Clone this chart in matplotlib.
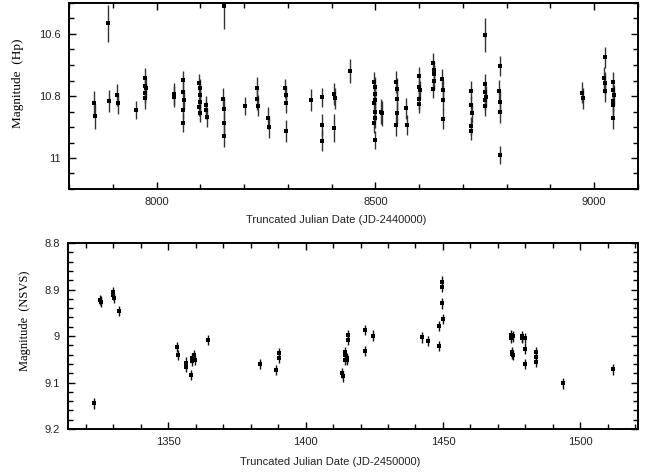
import numpy as np
import matplotlib.pyplot as plt
from matplotlib.ticker import MultipleLocator, FormatStrFormatter

# Hipparcos photometry (top panel)
hp_t = [7857, 7859, 7889, 7891, 7909, 7911, 7953,
        7973, 7974, 7975, 7974, 7973,
        8039, 8041,
        8060, 8061, 8062, 8061, 8060,
        8098, 8099, 8100, 8099, 8098, 8100,
        8113, 8114, 8115,
        8153, 8152, 8153, 8154, 8153,
        8203, 8229, 8230, 8231, 8254, 8256,
        8294, 8295, 8296, 8295,
        8352, 8378, 8377, 8379, 8405, 8407, 8406, 8442,
        8497, 8498, 8499, 8498, 8497, 8499, 8498, 8497, 8498,
        8512, 8514,
        8548, 8549, 8550, 8549, 8548,
        8571, 8573,
        8599, 8600, 8601, 8600, 8599,
        8632, 8633, 8634, 8633, 8632,
        8653, 8654, 8655, 8654,
        8718, 8719, 8720, 8719, 8718,
        8751, 8750, 8751, 8752, 8751, 8750,
        8784, 8783, 8784, 8785, 8784,
        8973, 8975, 9024, 9023, 9024, 9025,
        9043, 9044, 9045, 9044, 9043, 9044]
hp_mag = [10.824, 10.865, 10.566, 10.816, 10.797, 10.824, 10.845,
          10.743, 10.768, 10.775, 10.791, 10.808,
          10.794, 10.802,
          10.749, 10.786, 10.813, 10.845, 10.886,
          10.759, 10.775, 10.797, 10.818, 10.834, 10.854,
          10.829, 10.845, 10.869,
          10.510, 10.810, 10.843, 10.888, 10.929,
          10.832, 10.775, 10.811, 10.831, 10.872, 10.899,
          10.775, 10.797, 10.824, 10.913,
          10.813, 10.804, 10.893, 10.944, 10.794, 10.808, 10.903, 10.719,
          10.754, 10.770, 10.795, 10.813, 10.824, 10.851, 10.872, 10.888, 10.942,
          10.851, 10.856,
          10.754, 10.778, 10.811, 10.854, 10.894,
          10.840, 10.894,
          10.735, 10.772, 10.781, 10.811, 10.826,
          10.692, 10.716, 10.729, 10.752, 10.778,
          10.746, 10.781, 10.813, 10.874,
          10.783, 10.829, 10.856, 10.897, 10.913,
          10.603, 10.762, 10.786, 10.802, 10.813, 10.832,
          10.703, 10.783, 10.818, 10.851, 10.990,
          10.789, 10.808, 10.675, 10.743, 10.759, 10.784,
          10.754, 10.781, 10.797, 10.816, 10.829, 10.872]
hp_err = [0.040, 0.040, 0.059, 0.034, 0.035, 0.035, 0.030,
          0.033, 0.033, 0.033, 0.033, 0.033,
          0.035, 0.035,
          0.030, 0.030, 0.030, 0.030, 0.030,
          0.030, 0.030, 0.030, 0.030, 0.030, 0.030,
          0.030, 0.030, 0.030,
          0.075, 0.035, 0.035, 0.035, 0.035,
          0.028, 0.035, 0.035, 0.035, 0.035, 0.035,
          0.030, 0.030, 0.030, 0.036,
          0.035, 0.030, 0.035, 0.035, 0.035, 0.035, 0.044, 0.038,
          0.030, 0.030, 0.030, 0.030, 0.030, 0.030, 0.030, 0.030, 0.030,
          0.040, 0.040,
          0.035, 0.035, 0.035, 0.035, 0.035,
          0.033, 0.033,
          0.030, 0.030, 0.030, 0.030, 0.030,
          0.030, 0.030, 0.030, 0.030, 0.030,
          0.033, 0.033, 0.033, 0.033,
          0.030, 0.030, 0.030, 0.030, 0.030,
          0.054, 0.033, 0.033, 0.033, 0.033, 0.033,
          0.031, 0.035, 0.035, 0.035, 0.030,
          0.035, 0.035, 0.034, 0.035, 0.035, 0.035,
          0.033, 0.033, 0.033, 0.033, 0.033, 0.033]

# NSVS photometry (bottom panel)
ns_t = [1323.1, 1325.2, 1325.4, 1329.8, 1330.0, 1330.2, 1332.2,
        1353.3, 1353.4, 1356.3, 1356.5, 1358.1, 1358.5, 1358.7,
        1359.5, 1359.6, 1364.3, 1383.3, 1389.4, 1390.2, 1390.3,
        1413.4, 1413.5, 1414.2, 1414.3, 1414.4, 1415.0, 1415.1,
        1415.5, 1415.6, 1421.5, 1421.6, 1424.5, 1442.5, 1444.6,
        1448.5, 1448.6, 1449.6, 1449.7, 1449.8, 1449.9,
        1474.8, 1474.9, 1475.0, 1475.1, 1475.4, 1475.5,
        1478.6, 1478.7, 1479.7, 1479.8, 1479.9,
        1483.7, 1483.8, 1483.9, 1493.6, 1511.8]
ns_mag = [9.145, 8.923, 8.926, 8.905, 8.912, 8.919, 8.946,
          9.024, 9.041, 9.057, 9.066, 9.084, 9.048, 9.053,
          9.041, 9.052, 9.009, 9.061, 9.073, 9.036, 9.047,
          9.080, 9.087, 9.034, 9.041, 9.052, 9.048, 9.052,
          8.998, 9.009, 8.987, 9.032, 8.999, 9.003, 9.011,
          8.978, 9.021, 8.883, 8.894, 8.930, 8.964,
          8.998, 9.004, 9.034, 9.039, 9.001, 9.041,
          9.001, 9.005, 9.005, 9.027, 9.061,
          9.034, 9.045, 9.056, 9.102, 9.072]
ns_err = [0.011] * len(ns_t)

W, H = 655, 472
fig = plt.figure(figsize=(W / 100, H / 100), dpi=100)
ax1 = fig.add_axes([69 / W, 1 - 189 / H, 569 / W, 186 / H])
ax2 = fig.add_axes([68 / W, 1 - 429 / H, 570 / W, 186 / H])

ebkw = dict(fmt='s', color='black', ms=2.4, elinewidth=1.0,
            capsize=2.8, capthick=1.0, mew=0)
ax1.errorbar(hp_t, hp_mag, yerr=hp_err, ecolor='#333333', **ebkw)
ax2.errorbar(ns_t, ns_mag, yerr=ns_err, ecolor='#111111', **ebkw)

ax1.set_xlim(7800, 9100)
ax1.set_ylim(11.1, 10.5)
ax1.xaxis.set_major_locator(MultipleLocator(500))
ax1.xaxis.set_minor_locator(MultipleLocator(100))
ax1.yaxis.set_major_locator(MultipleLocator(0.2))
ax1.yaxis.set_minor_locator(MultipleLocator(0.05))

ax2.set_xlim(1313.5, 1521)
ax2.set_ylim(9.2, 8.8)
ax2.xaxis.set_major_locator(MultipleLocator(50))
ax2.xaxis.set_minor_locator(MultipleLocator(10))
ax2.yaxis.set_major_locator(MultipleLocator(0.1))
ax2.yaxis.set_minor_locator(MultipleLocator(0.02))

for ax in (ax1, ax2):
    ax.yaxis.set_major_formatter(FormatStrFormatter('%g'))
    ax.xaxis.set_major_formatter(FormatStrFormatter('%g'))
    ax.tick_params(which='both', direction='in', top=True, right=True,
                   width=1.0, labelsize=8, labelfontfamily='Liberation Sans',
                   labelcolor='#222222')
    ax.tick_params(which='major', length=5, pad=6)
    ax.tick_params(which='minor', length=3.5)
    for s in ax.spines.values():
        s.set_linewidth(1.4)

ax1.text(-0.09, 0.57, 'Magnitude  (Hp)', transform=ax1.transAxes, rotation=90,
         ha='center', va='center', fontsize=9.5, family='Liberation Serif')
ax2.text(-0.075, 0.58, 'Magnitude  (NSVS)', transform=ax2.transAxes, rotation=90,
         ha='center', va='center', fontsize=9, family='Liberation Serif')

ax1.text(0.469, -0.165, 'Truncated Julian Date (JD-2440000)', transform=ax1.transAxes,
         ha='center', va='center', fontsize=8, family='Liberation Sans', color='#222222')
ax2.text(0.46, -0.177, 'Truncated Julian Date (JD-2450000)', transform=ax2.transAxes,
         ha='center', va='center', fontsize=8, family='Liberation Sans', color='#222222')

fig.savefig('out.png', dpi=100)
